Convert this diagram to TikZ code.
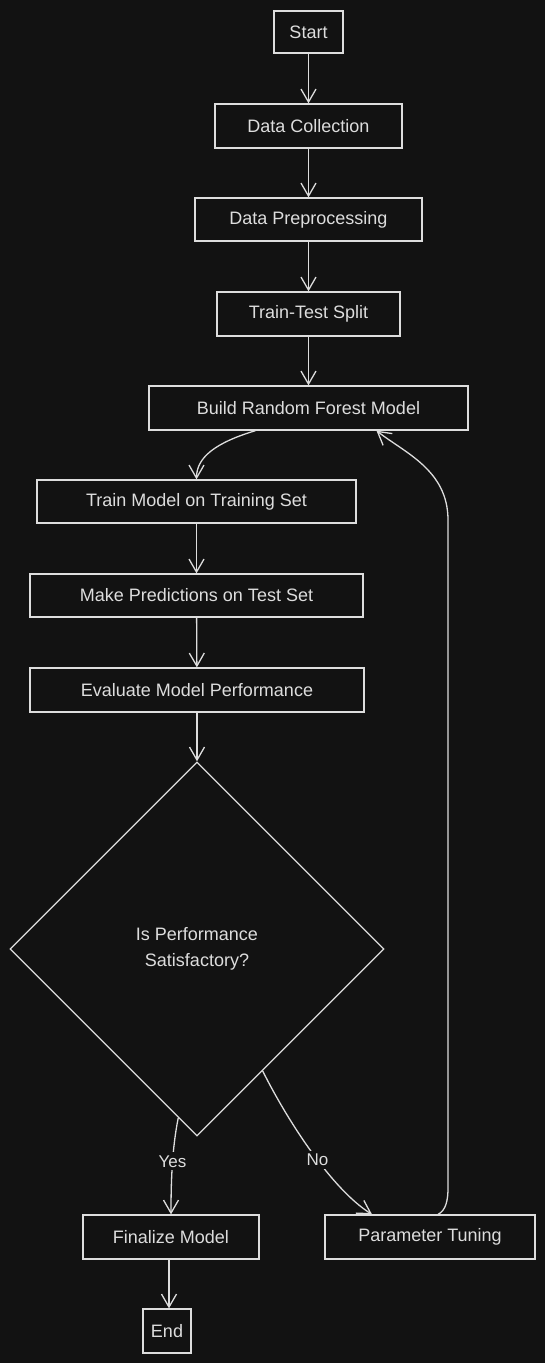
\documentclass[tikz,border=0pt]{standalone}
\usepackage{fontspec}
\setmainfont{Liberation Sans}
\usetikzlibrary{arrows.meta,shapes.geometric,calc}
\definecolor{bg}{HTML}{121212}
\definecolor{ink}{HTML}{DDDDDD}
\begin{document}
\begin{tikzpicture}[x=1pt,y=-1pt,
  box/.style={draw=ink,line width=1.3pt,inner sep=0pt,text=ink,font=\fontsize{18}{22}\selectfont},
  dia/.style={draw=ink,line width=1.3pt,diamond,inner sep=0pt,minimum width=374pt,minimum height=374pt,text=ink,align=center,font=\fontsize{18}{26}\selectfont},
  arr/.style={draw=ink,line width=1.3pt,-{Straight Barb[length=13pt,width=15pt,line width=1.3pt]}},
  lbl/.style={fill=bg,text=ink,inner sep=3pt,font=\fontsize{17}{20}\selectfont}]
\fill[bg] (0,0) rectangle (545,1363);
\useasboundingbox (0,0) rectangle (545,1363);
\node[box,minimum width=69pt,minimum height=42pt] (start) at (308.5,32) {Start};
\node[box,minimum width=187pt,minimum height=44pt] (dc) at (308.5,126) {Data Collection};
\node[box,minimum width=227pt,minimum height=43pt] (dp) at (308.5,219.5) {Data Preprocessing};
\node[box,minimum width=183pt,minimum height=44pt] (tts) at (308.5,314) {Train-Test Split};
\node[box,minimum width=319pt,minimum height=44pt] (build) at (308.5,408) {Build Random Forest Model};
\node[box,minimum width=319pt,minimum height=43pt] (train) at (196.5,501.5) {Train Model on Training Set};
\node[box,minimum width=333pt,minimum height=43pt] (pred) at (196.5,595.5) {Make Predictions on Test Set};
\node[box,minimum width=334pt,minimum height=44pt] (eval) at (197,690) {Evaluate Model Performance};
\node[dia] (d) at (197,949) {Is Performance\\Satisfactory?};
\node[box,minimum width=176pt,minimum height=44pt] (fin) at (171,1237) {Finalize Model};
\node[box,minimum width=210pt,minimum height=44pt] (pt) at (430,1237) {Parameter Tuning};
\node[box,minimum width=48pt,minimum height=44pt] (end) at (167,1331) {End};
\coordinate (ys) at ($(d.south west)!0.8!(d.south)$);
\coordinate (ns) at ($(d.south)!0.7!(d.south east)$);
\coordinate (up1) at (448,1188);
\coordinate (up2) at (448,520);
\draw[arr] (start) -- (dc);
\draw[arr] (dc) -- (dp);
\draw[arr] (dp) -- (tts);
\draw[arr] (tts) -- (build);
\draw[arr] ([xshift=-53pt]build.south) .. controls +(-40,12) and +(0,-22) .. (train.north);
\draw[arr] (train) -- (pred);
\draw[arr] (pred) -- (eval);
\draw[arr] (eval) -- (d);
\draw[arr] (ys) .. controls +(-6,30) and +(0,-35) .. node[lbl,pos=0.47] {Yes} (fin.north);
\draw[arr] ([xshift=-2pt]fin.south) -- ([xshift=-2pt]fin.south |- end.north);
\draw[arr] (ns) .. controls +(25,50) and +(-40,-25) .. node[lbl,pos=0.55] {No} ([xshift=-58pt]pt.north);
\draw[arr] ([xshift=8pt]pt.north) .. controls +(8,-4) and +(0,12) .. (up1) -- (up2) .. controls +(0,-50) and +(28,22) .. ([xshift=68pt]build.south);
\end{tikzpicture}
\end{document}
